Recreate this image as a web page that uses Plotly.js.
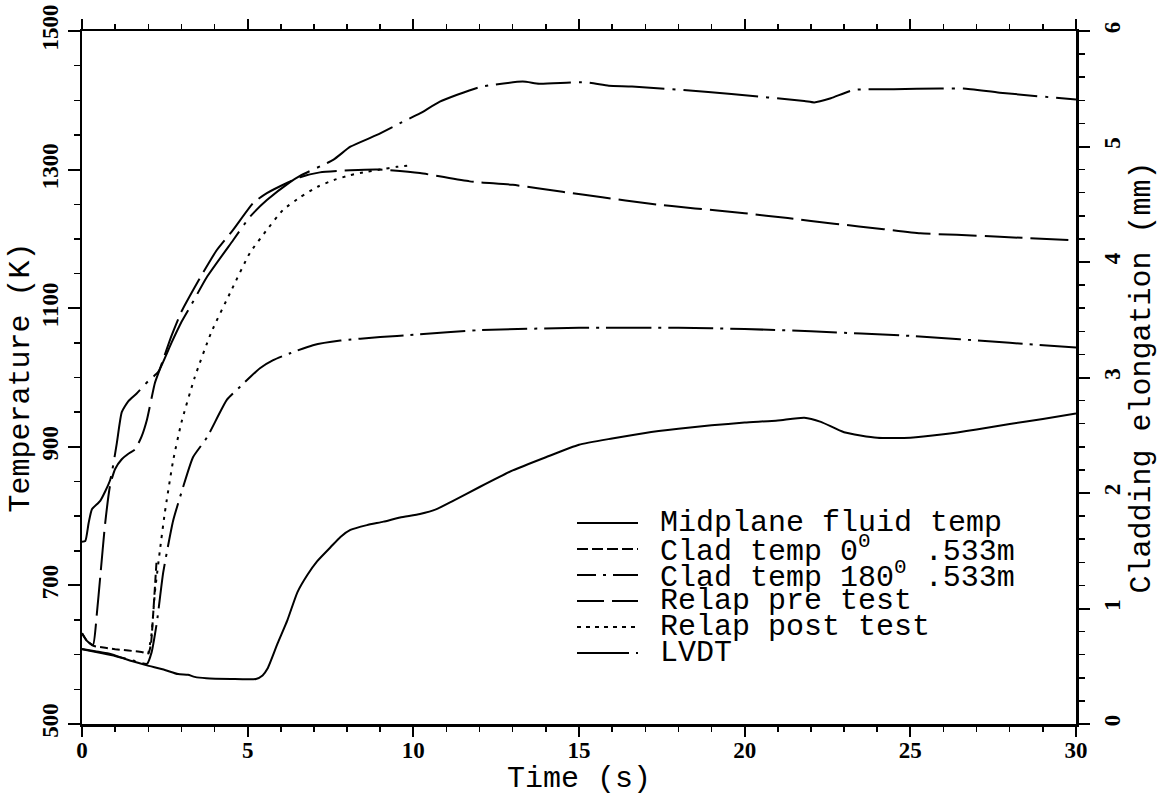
<!DOCTYPE html>
<html>
<head>
<meta charset="utf-8">
<script src="https://cdn.plot.ly/plotly-3.0.1.min.js"></script>
<style>html,body{margin:0;padding:0;background:#fff;}#chart{width:1164px;height:796px;}</style>
</head>
<body>
<div id="chart"></div>
<script>
// ---------------- data ----------------
const midT = [0,0.5,1,1.5,1.93,2.5,2.9,3.2,3.4,3.75,4.5,5.25,5.45,5.6,5.9,6.2,6.5,6.8,7.1,7.5,7.8,8.1,8.6,9.1,9.6,10.2,10.7,11.2,12,13,14,15,16,17,18,19,20,21,21.8,22.3,23,24,25,26,27,28,29,30];
const midK = [608,603,598,591,585,578,572,571,568,566,565,565,570,580,616,650,690,715,735,755,770,780,787,792,798,803,810,822,842,866,885,903,912,920,926,931,935,938,942,936,921,913,913,918,925,933,940,948];

const clad0T = [0,0.15,0.33,0.7,1.0,1.4,1.8,2.0,2.08,2.15,2.25];
const clad0K = [631,620,613,610,608,606,604,602,615,660,735];

const clad180T = [0,0.1,0.2,0.3,0.55,0.85,1.05,1.2,1.4,1.65,2.0,2.3,2.7,3.0,3.3,3.77,4.56,5.07,5.58,6.28,6.58,7.58,8.1,8.9,9.6,10.2,10.8,12.0,13.3,13.8,15.2,15.9,16.6,18.9,19.6,21.8,22.1,22.6,23.3,24.5,25.9,26.6,27.7,30];
const clad180K = [763,764,790,810,822,852,905,950,966,977,995,1008,1050,1080,1105,1145,1198,1232,1256,1282,1291,1314,1333,1350,1367,1381,1398,1419,1427,1424,1426,1421,1420,1412,1409,1399,1397,1403,1415,1416,1417,1417,1411,1401];

const preT = [0,0.15,0.33,0.45,0.55,0.7,0.85,1.0,1.2,1.4,1.6,1.8,1.96,2.2,2.35,2.7,3.0,3.35,3.65,4.07,4.56,5.17,5.58,6.2,6.58,7.18,8.1,9.0,10.2,11.7,13.0,14.5,15.7,17.1,18.5,20.0,21.3,22.7,24.2,25.3,26.4,27.7,30];
const preK = [631,620,614,660,712,790,845,868,882,890,896,915,939,992,1012,1060,1095,1126,1151,1184,1213,1252,1266,1281,1289,1296,1299,1300,1295,1283,1278,1268,1260,1251,1244,1237,1230,1222,1214,1208,1206,1203,1198];

const postT = [2.0,2.1,2.2,2.35,2.5,2.75,3.0,3.4,3.9,4.5,5.07,5.58,6.07,6.58,7.1,7.6,8.1,8.6,9.0,9.5,9.9];
const postK = [601,630,690,750,805,880,935,1000,1065,1125,1180,1213,1242,1260,1275,1285,1292,1297,1300,1304,1306];

const lvdtT = [0,0.4,0.8,1.2,1.6,1.96,2.1,2.26,2.45,2.75,3.05,3.35,3.77,4.38,4.77,5.37,5.77,6.28,6.97,7.8,9,10,12,15,18,20,22,25,28,30];
const lvdtMM = [0.65,0.63,0.61,0.575,0.545,0.52,0.62,0.88,1.31,1.76,2.05,2.31,2.48,2.81,2.92,3.08,3.15,3.21,3.28,3.32,3.35,3.37,3.41,3.43,3.43,3.42,3.40,3.36,3.30,3.26];

const legendNames = [
  'Midplane fluid temp',
  'Clad temp 0<sup>0</sup>\u00A0\u00A0\u00A0.533m',
  'Clad temp 180<sup>0</sup>\u00A0.533m',
  'Relap pre test',
  'Relap post test',
  'LVDT'
];
const xTickVals = [0,5,10,15,20,25,30];
const xTickLabels = ['0','5','10','15','20','25','30'];
const yTickVals = [500,700,900,1100,1300,1500];
const yTickLabels = ['500','700','900','1100','1300','1500'];
const y2TickVals = [0,1,2,3,4,5,6];
const y2TickLabels = ['0','1','2','3','4','5','6'];

// ---------------- styles ----------------
const ink = '#000';
const dashes = ['solid','8px,4px','75px,8px,3px,8px','38px,8px','3px,6px','45px,7px,3px,7px'];
const sampleDashes = ['solid','11px,4px','19px,7px,3px,7px,28px','27px,8px,27px','4px,5px','52px,7px,3px'];

const W = 1164, H = 796, ML = 82, MR = 88, MT = 31, MB = 72;
const px2x = p => (p - ML) / (W - ML - MR);
const py2y = p => 1 - (p - MT) / (H - MT - MB);

function tr(x, y, i, axis) {
  return {x: x, y: y, yaxis: axis || 'y', mode: 'lines', showlegend: false, hoverinfo: 'skip',
          line: {color: ink, width: 2, dash: dashes[i], shape: 'spline', smoothing: 0.5}};
}
const data = [
  tr(midT, midK, 0),
  tr(clad0T, clad0K, 1),
  tr(clad180T, clad180K, 2),
  tr(preT, preK, 3),
  tr(postT, postK, 4),
  tr(lvdtT, lvdtMM, 5, 'y2')
];

// custom legend (text + line samples)
const rowsY = [523, 549, 575, 601, 627, 653];
const shapes = [], annotations = [];
legendNames.forEach((name, i) => {
  shapes.push({type: 'line', xref: 'paper', yref: 'paper',
    x0: px2x(577), x1: px2x(638), y0: py2y(rowsY[i]), y1: py2y(rowsY[i]),
    line: {color: ink, width: 2, dash: sampleDashes[i]}});
  annotations.push({xref: 'paper', yref: 'paper', x: px2x(658), y: py2y(rowsY[i]),
    xanchor: 'left', yanchor: 'middle', showarrow: false, text: name,
    font: {family: 'Liberation Mono, monospace', size: 30, color: ink}});
});

const tickFont = {family: 'Liberation Serif, serif', size: 23, color: ink, weight: 'bold'};
const titleFont = {family: 'Liberation Mono, monospace', size: 30, color: ink};

const layout = {
  width: W, height: H,
  margin: {l: ML, r: MR, t: MT, b: MB, pad: 0},
  paper_bgcolor: '#fff', plot_bgcolor: '#fff',
  showlegend: false,
  xaxis: {
    range: [0, 30], tickmode: 'array', tickvals: xTickVals, ticktext: xTickLabels,
    ticks: 'outside', ticklen: 10, tickwidth: 2, tickcolor: ink, ticklabelstandoff: -6,
    minor: {dtick: 1, tick0: 0, ticks: 'outside', ticklen: 5, tickwidth: 1.5, tickcolor: ink},
    showline: true, linewidth: 2.5, linecolor: ink, mirror: 'ticks',
    showgrid: false, zeroline: false, tickfont: tickFont,
    title: {text: 'Time (s)', font: titleFont, standoff: 8}
  },
  yaxis: {
    range: [500, 1500], tickmode: 'array', tickvals: yTickVals, ticktext: yTickLabels,
    ticks: 'outside', ticklen: 12, tickwidth: 2, tickcolor: ink, tickangle: -90,
    minor: {dtick: 50, tick0: 500, ticks: 'outside', ticklen: 6, tickwidth: 1.5, tickcolor: ink},
    showline: true, linewidth: 2.5, linecolor: ink,
    showgrid: false, zeroline: false, tickfont: tickFont,
    title: {text: 'Temperature (K)', font: titleFont, standoff: 0}
  },
  yaxis2: {
    overlaying: 'y', side: 'right',
    range: [0, 6], tickmode: 'array', tickvals: y2TickVals, ticktext: y2TickLabels,
    ticks: 'outside', ticklen: 11, tickwidth: 2, tickcolor: ink, tickangle: -90, ticklabelstandoff: 3,
    minor: {dtick: 0.2, tick0: 0, ticks: 'outside', ticklen: 6, tickwidth: 1.5, tickcolor: ink},
    showline: true, linewidth: 2.5, linecolor: ink,
    showgrid: false, zeroline: false, tickfont: tickFont,
    title: {text: 'Cladding elongation (mm)', font: titleFont, standoff: 4}
  },
  shapes: shapes,
  annotations: annotations
};

Plotly.newPlot('chart', data, layout, {staticPlot: true, displayModeBar: false});
</script>
</body>
</html>
